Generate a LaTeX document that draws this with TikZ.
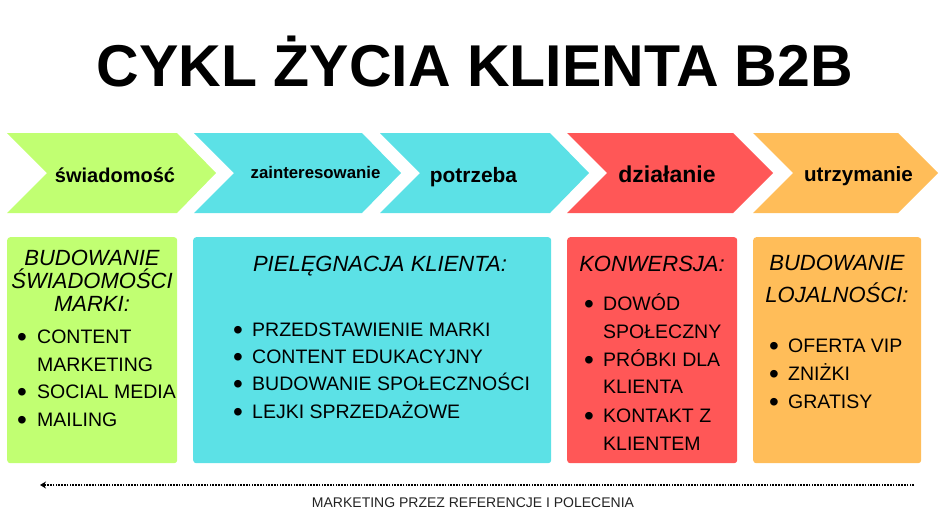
\documentclass[tikz,border=0pt]{standalone}
\usepackage{fontspec}
\setmainfont{Liberation Sans}
\usepackage{tikz}
\usetikzlibrary{arrows.meta}
\definecolor{stagegreen}{HTML}{C1FF72}
\definecolor{stagecyan}{HTML}{5CE1E6}
\definecolor{stagered}{HTML}{FF5757}
\definecolor{stageorange}{HTML}{FFBD59}
\definecolor{reftext}{HTML}{222222}

\begin{document}
\begin{tikzpicture}[x=1pt,y=-1pt,
    stagelabel/.style={anchor=base, inner sep=0pt},
    infobox/.style={anchor=north west, rounded corners=3pt, inner sep=0pt},
    boxhead/.style={anchor=base, inner sep=0pt, font=\itshape\fontsize{22}{26}\selectfont},
    boxitem/.style={anchor=base west, inner sep=0pt, font=\fontsize{19.5}{23}\selectfont},
    itemdot/.style={anchor=base, inner sep=0pt, yshift=-3pt, font=\fontsize{28}{30}\selectfont},
    refline/.style={-{Stealth[length=6pt,width=7pt]}, line width=1.6pt, dash pattern=on 1.6pt off 1.2pt}]
    \useasboundingbox (0,0) rectangle (945,531);
    % Title
    \node[anchor=base, inner sep=0pt, font=\bfseries\fontsize{59}{64}\selectfont] (title) at (475,86) {CYKL ŻYCIA KLIENTA B2B};
    % Draw stage arrows
    \fill[stagegreen] (7,133) -- (177,133) -- (216,173) -- (177,213) -- (7,213) -- (47,173) -- cycle;
    \fill[stagecyan] (194,133) -- (362,133) -- (401,173) -- (362,213) -- (194,213) -- (234,173) -- cycle;
    \fill[stagecyan] (380,133) -- (550,133) -- (589,173) -- (550,213) -- (380,213) -- (420,173) -- cycle;
    \fill[stagered] (567,133) -- (733,133) -- (773,173) -- (733,213) -- (567,213) -- (607,173) -- cycle;
    \fill[stageorange] (753,133) -- (898,133) -- (938,173) -- (898,213) -- (753,213) -- (793,173) -- cycle;
    % Stage labels
    \node[stagelabel, font=\bfseries\fontsize{20}{24}\selectfont] (awareness) at (115,182) {świadomość};
    \node[stagelabel, font=\bfseries\fontsize{16.8}{20}\selectfont] (interest) at (315.5,178) {zainteresowanie};
    \node[stagelabel, font=\bfseries\fontsize{20.9}{25}\selectfont] (need) at (473.5,182) {potrzeba};
    \node[stagelabel, font=\bfseries\fontsize{23}{27}\selectfont] (action) at (667,182) {działanie};
    \node[stagelabel, font=\bfseries\fontsize{20.6}{25}\selectfont] (retention) at (858.5,181) {utrzymanie};
    % Boxes under the stages
    \node[infobox, fill=stagegreen, minimum width=170pt, minimum height=226pt] (awbox) at (7,237) {};
    \node[infobox, fill=stagecyan, minimum width=358pt, minimum height=226pt] (nurbox) at (193,237) {};
    \node[infobox, fill=stagered, minimum width=170pt, minimum height=226pt] (convbox) at (567,237) {};
    \node[infobox, fill=stageorange, minimum width=168pt, minimum height=226pt] (loybox) at (753,237) {};
    % Box headings
    \node[boxhead] (awhead1) at (92,265) {BUDOWANIE};
    \node[boxhead] (awhead2) at (92,288) {ŚWIADOMOŚCI};
    \node[boxhead] (awhead3) at (92,311) {MARKI:};
    \node[boxhead] (nurhead) at (380,271) {PIELĘGNACJA KLIENTA:};
    \node[boxhead] (convhead) at (652,271) {KONWERSJA:};
    \node[boxhead] (loyhead1) at (837,270) {BUDOWANIE};
    \node[boxhead] (loyhead2) at (837,302) {LOJALNOŚCI:};
    % Items
    \foreach \y/\t in {343/CONTENT, 371/MARKETING, 398/SOCIAL MEDIA, 426/MAILING}
        \node[boxitem] (awitem\y) at (37,\y) {\t};
    \foreach \y in {343,398,426}
        \node[itemdot] (awdot\y) at (22,\y) {•};
    \foreach \y/\t in {336/PRZEDSTAWIENIE MARKI, 363/CONTENT EDUKACYJNY, 390/BUDOWANIE SPOŁECZNOŚCI, 418/LEJKI SPRZEDAŻOWE} {
        \node[boxitem] (nuritem\y) at (252,\y) {\t};
        \node[itemdot] (nurdot\y) at (238,\y) {•};
    }
    \foreach \y/\t in {310/DOWÓD, 338/SPOŁECZNY, 366/PRÓBKI DLA, 393/KLIENTA, 422/KONTAKT Z, 450/KLIENTEM}
        \node[boxitem] (convitem\y) at (603,\y) {\t};
    \foreach \y in {310,366,422}
        \node[itemdot] (convdot\y) at (589,\y) {•};
    \foreach \y/\t in {352/OFERTA VIP, 380/ZNIŻKI, 408/GRATISY} {
        \node[boxitem] (loyitem\y) at (788,\y) {\t};
        \node[itemdot] (loydot\y) at (774,\y) {•};
    }
    % Referral arrow
    \coordinate (refright) at (914,485);
    \coordinate (refleft) at (40,485);
    \draw[refline] (refright) -- (refleft);
    \node[anchor=base, inner sep=0pt, text=reftext, font=\fontsize{14}{17}\selectfont] (reflabel) at (473,507) {MARKETING PRZEZ REFERENCJE I POLECENIA};
\end{tikzpicture}
\end{document}
